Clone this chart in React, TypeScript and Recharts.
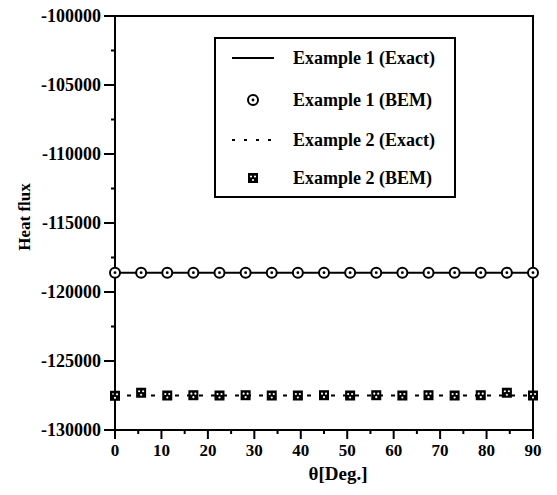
import { LineChart, Line, XAxis, YAxis, ReferenceArea, Legend } from 'recharts';

const theta = [0, 5.625, 11.25, 16.875, 22.5, 28.125, 33.75, 39.375, 45, 50.625, 56.25, 61.875, 67.5, 73.125, 78.75, 84.375, 90];
const ex1Exact = [-118600, -118600, -118600, -118600, -118600, -118600, -118600, -118600, -118600, -118600, -118600, -118600, -118600, -118600, -118600, -118600, -118600];
const ex1Bem = [-118600, -118600, -118600, -118600, -118600, -118600, -118600, -118600, -118600, -118600, -118600, -118600, -118600, -118600, -118600, -118600, -118600];
const ex2Exact = [-127500, -127500, -127500, -127500, -127500, -127500, -127500, -127500, -127500, -127500, -127500, -127500, -127500, -127500, -127500, -127500, -127500];
const ex2Bem = [-127520, -127300, -127500, -127480, -127500, -127480, -127500, -127500, -127480, -127500, -127480, -127500, -127480, -127500, -127480, -127300, -127500];

const xTicks = [0, 5, 10, 15, 20, 25, 30, 35, 40, 45, 50, 55, 60, 65, 70, 75, 80, 85, 90];
const yTicks = [-130000, -127500, -125000, -122500, -120000, -117500, -115000, -112500, -110000, -107500, -105000, -102500, -100000];
const legendNames = ['Example 1 (Exact)', 'Example 1 (BEM)', 'Example 2 (Exact)', 'Example 2 (BEM)'];

const data = theta.map((t, i) => ({
    theta: t,
    ex1Exact: ex1Exact[i],
    ex1Bem: ex1Bem[i],
    ex2Exact: ex2Exact[i],
    ex2Bem: ex2Bem[i],
}));

const FONT = "'Liberation Serif', 'Times New Roman', serif";

const XTick = (props: any) => {
    const { x, y, payload } = props;
    const major = payload.value % 10 === 0;
    return (
        <g>
            <line x1={x} x2={x} y1={y} y2={y + (major ? 9 : 4)} stroke="#000" strokeWidth={2} />
            {major && (
                <text x={x} y={y + 26} textAnchor="middle" fontFamily={FONT} fontWeight="bold" fontSize={17} fill="#000">
                    {payload.value}
                </text>
            )}
        </g>
    );
};

const YTick = (props: any) => {
    const { x, y, payload } = props;
    const major = payload.value % 5000 === 0;
    return (
        <g>
            <line x1={x - (major ? 11 : 4)} x2={x} y1={y} y2={y} stroke="#000" strokeWidth={2} />
            {major && (
                <text x={x - 14} y={y + 6} textAnchor="end" fontFamily={FONT} fontWeight="bold" fontSize={18} fill="#000">
                    {payload.value}
                </text>
            )}
        </g>
    );
};

const CircleDot = (props: any) => {
    const { cx, cy } = props;
    if (cx == null || cy == null) return null;
    return (
        <g>
            <circle cx={cx} cy={cy} r={5} fill="#fff" stroke="#000" strokeWidth={2} />
            <circle cx={cx} cy={cy} r={1.4} fill="#000" />
        </g>
    );
};

const SquareDot = (props: any) => {
    const { cx, cy } = props;
    if (cx == null || cy == null) return null;
    return (
        <g>
            <rect x={cx - 5} y={cy - 5} width={10} height={10} fill="#000" />
            <circle cx={cx - 2} cy={cy - 1.5} r={1.1} fill="#fff" />
            <circle cx={cx + 2} cy={cy - 1.5} r={1.1} fill="#fff" />
            <circle cx={cx} cy={cy + 2} r={1.1} fill="#fff" />
        </g>
    );
};

const LegendBox = () => {
    const rows = [19, 61, 101, 139];
    return (
        <div style={{ width: 242, height: 161, border: '2px solid #000', boxSizing: 'border-box', background: '#fff' }}>
            <svg width={238} height={157}>
                <line x1={16} x2={58} y1={rows[0]} y2={rows[0]} stroke="#000" strokeWidth={2} />
                <CircleDot cx={37} cy={rows[1]} />
                <line x1={16} x2={58} y1={rows[2]} y2={rows[2]} stroke="#000" strokeWidth={2} strokeDasharray="3 9" />
                <SquareDot cx={37} cy={rows[3]} />
                {legendNames.map((name, i) => (
                    <text key={name} x={77} y={rows[i] + 6} fontFamily={FONT} fontWeight="bold" fontSize={18} fill="#000">
                        {name}
                    </text>
                ))}
            </svg>
        </div>
    );
};

export default function App() {
    return (
        <div style={{ position: 'absolute', left: 0, top: 0, background: '#fff' }}>
            <LineChart width={557} height={495} data={data} margin={{ top: 16, right: 24, bottom: 0, left: 0 }}>
                <XAxis
                    dataKey="theta"
                    type="number"
                    domain={[0, 90]}
                    ticks={xTicks}
                    interval={0}
                    height={65}
                    tickSize={0}
                    tickMargin={0}
                    tickLine={false}
                    axisLine={{ stroke: '#000', strokeWidth: 2 }}
                    tick={<XTick />}
                    label={(p: any) => {
                        const vb = p.viewBox;
                        return (
                            <text x={vb.x + vb.width / 2 + 14} y={vb.y + 50} textAnchor="middle" fontFamily={FONT} fontWeight="bold" fontSize={19} fill="#000">
                                θ[Deg.]
                            </text>
                        );
                    }}
                />
                <YAxis
                    type="number"
                    domain={[-130000, -100000]}
                    ticks={yTicks}
                    interval={0}
                    width={115}
                    tickSize={0}
                    tickMargin={0}
                    tickLine={false}
                    axisLine={{ stroke: '#000', strokeWidth: 2 }}
                    tick={<YTick />}
                    label={(p: any) => {
                        const vb = p.viewBox;
                        const lx = vb.x + 30;
                        const ly = vb.y + 201;
                        return (
                            <text x={lx} y={ly} transform={`rotate(-90 ${lx} ${ly})`} textAnchor="middle" fontFamily={FONT} fontWeight="bold" fontSize={17} fill="#000">
                                Heat flux
                            </text>
                        );
                    }}
                />
                <ReferenceArea x1={0} x2={90} y1={-130000} y2={-100000} fill="none" stroke="#000" strokeWidth={2} ifOverflow="visible" />
                <Legend
                    layout="vertical"
                    align="center"
                    verticalAlign="middle"
                    content={() => <LegendBox />}
                    wrapperStyle={{ position: 'absolute', left: 214, top: 37, width: 242, height: 161 }}
                />
                <Line dataKey="ex1Exact" stroke="#000" strokeWidth={2} dot={false} isAnimationActive={false} legendType="none" />
                <Line dataKey="ex2Exact" stroke="#000" strokeWidth={2} strokeDasharray="4 8" dot={false} isAnimationActive={false} legendType="none" />
                <Line dataKey="ex1Bem" stroke="none" strokeWidth={0} dot={<CircleDot />} isAnimationActive={false} legendType="none" />
                <Line dataKey="ex2Bem" stroke="none" strokeWidth={0} dot={<SquareDot />} isAnimationActive={false} legendType="none" />
            </LineChart>
        </div>
    );
}
